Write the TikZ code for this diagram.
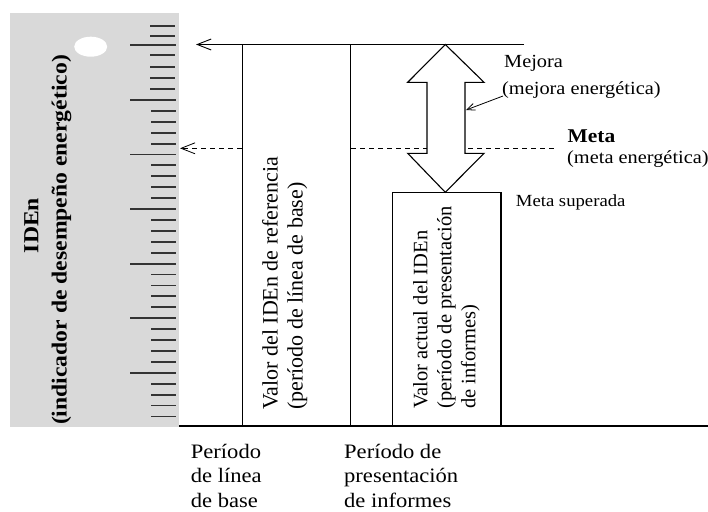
\documentclass[tikz,border=0pt]{standalone}
\usepackage{fontspec}
\setmainfont{Liberation Serif}
\newfontfamily\camb{Liberation Serif}[FakeStretch=1.1]
\usetikzlibrary{arrows.meta}
\definecolor{axisgray}{HTML}{D9D9D9}
\definecolor{tickcol}{HTML}{333333}
\tikzset{
  boxnode/.style={draw=black, line width=1.4pt, inner sep=0pt},
  tickmark/.style={draw=tickcol, line width=1.8pt},
  openarrow/.style={line width=0.9pt, -{Straight Barb[length=14pt,width=11pt]}},
  smallarrow/.style={line width=0.8pt, -{Straight Barb[length=8pt,width=7pt]}},
  dashline/.style={line width=0.8pt, dash pattern=on 5pt off 4pt},
  lbl/.style={inner sep=0pt, anchor=base west, font=\camb\fontsize{18.5}{20}\selectfont},
  boldlbl/.style={inner sep=0pt, anchor=base west, font=\camb\bfseries\fontsize{19.5}{20}\selectfont},
  bottomlbl/.style={inner sep=0pt, anchor=base west, align=left, font=\camb\fontsize{20.5}{24.5}\selectfont},
  boxtext/.style={inner sep=0pt, rotate=90, anchor=north west, align=left, font=\fontsize{22}{25}\selectfont},
  axislbl/.style={inner sep=0pt, rotate=90, anchor=base, font=\camb\bfseries\fontsize{21.5}{24}\selectfont}
}
\begin{document}
\begin{tikzpicture}[x=1pt,y=-1pt]
\useasboundingbox (0,0) rectangle (708,511);
% gray axis band
\fill[axisgray] (10,13) rectangle (179,427);
\fill[white] (90.7,46.7) ellipse (16.5 and 10);
% ticks
\foreach \y in {25.7,36,54.7,67,78,89} \draw[tickmark] (150,\y) -- (175,\y);
\foreach \y in {45,100,154.4,209,263.6,318.3,372.8} \draw[tickmark] (130,\y) -- (176,\y);
\foreach \k in {1,2,3,4} {
  \foreach \b in {100,154.4,209,263.6,318.3} \draw[tickmark] (151,\b+\k*10.92) -- (176,\b+\k*10.92);
}
\foreach \k in {1,2,3,4} \draw[tickmark] (151,372.8+\k*10.9) -- (176,372.8+\k*10.9);
% axis labels
\node[axislbl] (idn) at (38.3,225.5) {IDEn};
\node[axislbl] (idnfull) at (66.5,240) {(indicador de desempeño energético)};
% boxes
\node[boxnode, minimum width=108.4pt, minimum height=381.4pt] (ref) at (296.5,235) {};
\node[boxnode, minimum width=108.3pt, minimum height=233.2pt] (act) at (446.85,308.9) {};
% baseline
\coordinate (xL) at (179,425.8);
\coordinate (xR) at (708,425.8);
\draw[line width=1.6pt] (xL) -- (xR);
% top line with arrow
\coordinate (topL) at (196,44.5);
\coordinate (topR) at (524,44.5);
\draw[openarrow] (topR) -- (topL);
% dashed goal line
\coordinate (dL) at (180,148.3);
\coordinate (dR) at (558,148.3);
\draw[dashline, -{Straight Barb[length=14pt,width=11pt]}] (ref.west |- dL) -- (dL);
\draw[dashline] (ref.east |- dL) -- (dR);
% double arrow
\draw[line width=1.1pt, fill=white, line join=miter]
  (445.3,44.5) -- (484,82.3) -- (465,82.3) -- (465,153.3) -- (484,153.3)
  -- (445.3,192.3) -- (407.7,153.3) -- (427,153.3) -- (427,82.3) -- (407.7,82.3) -- cycle;
% pointer
\coordinate (pS) at (503,96);
\coordinate (pE) at (466,110);
\draw[smallarrow] (pS) -- (pE);
% right labels
\node[lbl] (mej) at (504,67.7) {Mejora};
\node[lbl] (mejf) at (502,94) {(mejora energética)};
\node[boldlbl] (meta) at (567.5,142.7) {Meta};
\node[lbl] (metaf) at (567,163.3) {(meta energética)};
\node[lbl, font=\camb\fontsize{17}{18}\selectfont] (sup) at (515.7,206.7) {Meta superada};
% box texts
\node[boxtext] (reftxt) at (262,410) {Valor del IDEn de referencia\\(período de línea de base)};
\node[boxtext, font=\fontsize{20.5}{24}\selectfont] (acttxt) at (413,409) {Valor actual del IDEn\\(período de presentación\\de informes)};
% bottom labels
\node[bottomlbl] (p1) at (190.7,507) {Período\\de línea\\de base};
\node[bottomlbl] (p2) at (344,507) {Período de\\presentación\\de informes};
\end{tikzpicture}
\end{document}
